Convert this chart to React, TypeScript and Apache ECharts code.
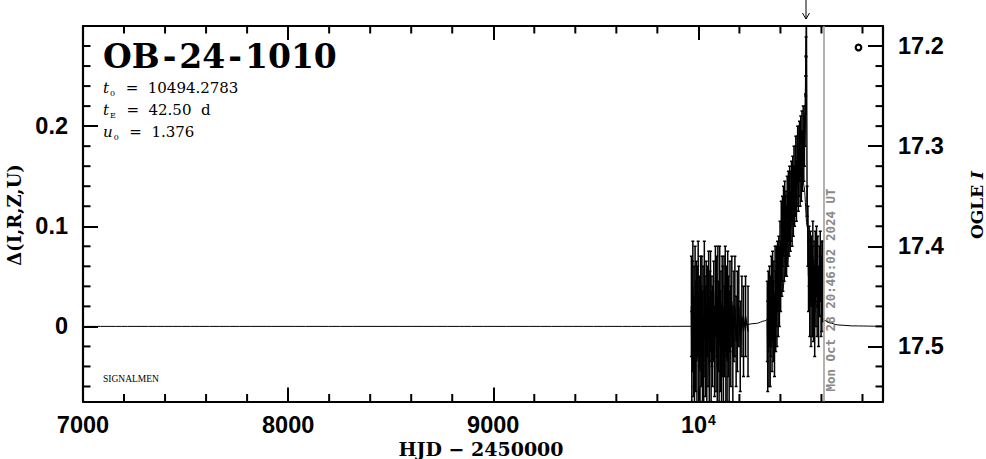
import React, { useEffect, useRef } from 'react';
import * as echarts from 'echarts';

// ---- data ----
// [HJD-2450000, Δmag, σ]
const season2023: number[][] = [
  [9966, 0.020, 0.050], [9968, -0.030, 0.045], [9971, 0.010, 0.055], [9973, 0.040, 0.045],
  [9976, -0.020, 0.050], [9979, 0.000, 0.060], [9981, -0.040, 0.045], [9984, 0.030, 0.050],
  [9987, -0.010, 0.055], [9990, 0.025, 0.040], [9993, -0.035, 0.050], [9996, 0.015, 0.045],
  [9999, 0.035, 0.050], [10002, -0.025, 0.055], [10005, 0.005, 0.045], [10008, -0.045, 0.050],
  [10011, 0.025, 0.045], [10014, -0.010, 0.050], [10017, 0.030, 0.040], [10020, -0.020, 0.055],
  [10023, 0.010, 0.050], [10026, -0.035, 0.045], [10029, 0.040, 0.045], [10032, 0.000, 0.050],
  [10035, -0.015, 0.055], [10038, 0.020, 0.045], [10041, -0.030, 0.050], [10044, 0.015, 0.045],
  [10047, -0.005, 0.055], [10050, 0.030, 0.045], [10053, -0.040, 0.050], [10056, 0.010, 0.045],
  [10059, 0.025, 0.050], [10062, -0.020, 0.055], [10066, 0.005, 0.045], [10069, -0.010, 0.050],
  [10075, 0.015, 0.050], [10079, -0.025, 0.045], [10083, 0.035, 0.045], [10086, -0.010, 0.055],
  [10089, 0.020, 0.050], [10092, -0.040, 0.045], [10095, 0.030, 0.050], [10098, 0.000, 0.045],
  [10101, -0.020, 0.055], [10104, 0.035, 0.045], [10107, -0.015, 0.050], [10110, 0.010, 0.045],
  [10113, -0.030, 0.050], [10116, 0.025, 0.045], [10119, 0.005, 0.055], [10122, -0.035, 0.045],
  [10125, 0.020, 0.050], [10128, -0.005, 0.045], [10131, 0.030, 0.050], [10134, -0.025, 0.050],
  [10137, 0.015, 0.045], [10140, -0.035, 0.050], [10143, 0.030, 0.045], [10146, 0.000, 0.050],
  [10150, -0.020, 0.055], [10154, 0.020, 0.045], [10158, -0.010, 0.050], [10163, 0.025, 0.045],
  [10168, -0.030, 0.050], [10173, 0.010, 0.045], [10178, 0.020, 0.050], [10184, -0.015, 0.045],
  [10190, 0.005, 0.050], [10197, 0.020, 0.040], [10204, -0.020, 0.045], [10212, 0.010, 0.040],
  [10220, -0.005, 0.045], [10230, 0.010, 0.040], [10242, -0.005, 0.045],
];

const season2024Rise: number[][] = [
  [10336, 0.005, 0.040], [10338, -0.020, 0.045], [10341, 0.015, 0.040], [10344, -0.010, 0.050],
  [10347, 0.020, 0.040], [10350, -0.015, 0.045], [10353, 0.010, 0.040], [10356, 0.025, 0.045],
  [10359, -0.005, 0.040], [10362, 0.030, 0.045], [10365, 0.005, 0.040], [10368, 0.020, 0.045],
  [10371, -0.010, 0.040], [10374, 0.035, 0.045], [10377, 0.015, 0.040], [10380, 0.040, 0.040],
  [10383, 0.020, 0.040], [10386, 0.050, 0.035], [10389, 0.030, 0.040], [10392, 0.055, 0.035],
  [10395, 0.040, 0.040], [10398, 0.070, 0.035], [10401, 0.050, 0.035], [10404, 0.085, 0.040],
  [10407, 0.065, 0.035], [10410, 0.095, 0.035], [10412, 0.075, 0.040], [10415, 0.105, 0.035],
  [10418, 0.080, 0.035], [10421, 0.110, 0.035], [10424, 0.090, 0.040], [10427, 0.100, 0.035],
  [10430, 0.085, 0.035], [10433, 0.115, 0.035], [10436, 0.095, 0.035], [10439, 0.120, 0.035],
  [10442, 0.100, 0.030], [10445, 0.125, 0.035], [10448, 0.105, 0.030], [10451, 0.120, 0.035],
  [10454, 0.135, 0.030], [10457, 0.115, 0.035], [10460, 0.140, 0.030], [10463, 0.125, 0.035],
  [10466, 0.150, 0.030], [10469, 0.130, 0.030], [10472, 0.145, 0.035], [10475, 0.160, 0.030],
  [10478, 0.135, 0.030], [10481, 0.155, 0.035], [10484, 0.170, 0.030], [10487, 0.145, 0.030],
  [10490, 0.165, 0.035], [10493, 0.175, 0.030], [10496, 0.150, 0.030], [10499, 0.180, 0.030],
  [10502, 0.160, 0.035], [10505, 0.185, 0.030], [10508, 0.165, 0.030], [10511, 0.190, 0.030],
  [10514, 0.170, 0.025], [10517, 0.185, 0.025], [10520, 0.200, 0.020], [10522, 0.222, 0.010],
  [10523, 0.240, 0.010], [10524, 0.260, 0.010], [10525, 0.279, 0.010], [10526, 0.360, 0.010],
];

const season2024Fall: number[][] = [
  [10530, 0.125, 0.015], [10534, 0.090, 0.030], [10537, 0.050, 0.035], [10540, 0.070, 0.030],
  [10543, 0.030, 0.040], [10546, 0.060, 0.035], [10549, 0.020, 0.040], [10552, 0.055, 0.035],
  [10555, 0.035, 0.045], [10558, 0.070, 0.035], [10561, 0.025, 0.040], [10564, 0.050, 0.035],
  [10567, 0.015, 0.045], [10570, 0.060, 0.035], [10573, 0.040, 0.040], [10576, 0.065, 0.035],
  [10579, 0.030, 0.040], [10582, 0.055, 0.035], [10586, 0.020, 0.040], [10590, 0.045, 0.035],
  [10594, 0.060, 0.035], [10598, 0.030, 0.040], [10602, 0.040, 0.045], [10606, 0.045, 0.040],
];

// model light curve [HJD-2450000, Δmag]
const modelCurve: number[][] = [
  [7000, 0], [9800, 0], [10069, 0.0002], [10197, 0.0008], [10282, 0.003], [10324, 0.0056],
  [10367, 0.0133], [10388, 0.0215], [10409, 0.036], [10431, 0.061], [10452, 0.099],
  [10473, 0.144], [10484, 0.160], [10494, 0.166], [10505, 0.160], [10515, 0.140],
  [10530, 0.100], [10545, 0.060], [10560, 0.035], [10580, 0.018], [10600, 0.009],
  [10615, 0.006], [10640, 0.0035], [10680, 0.0015], [10750, 0.0005], [10900, 0],
];

const nowHJD = 10609;

const xMajorTicks = [7000, 8000, 9000, 10000];
const xMinorTicks = [7200, 7400, 7600, 7800, 8200, 8400, 8600, 8800, 9200, 9400, 9600, 9800, 10200, 10400, 10600, 10800];
const deltaMajorTicks = [0, 0.1, 0.2];
const deltaMinorTicks = [-0.06, -0.04, -0.02, 0.02, 0.04, 0.06, 0.08, 0.12, 0.14, 0.16, 0.18, 0.22, 0.24, 0.26, 0.28];
const magMajorTicks = [17.2, 17.3, 17.4, 17.5];
const magMinorTicks = [17.22, 17.24, 17.26, 17.28, 17.32, 17.34, 17.36, 17.38, 17.42, 17.44, 17.46, 17.48, 17.52, 17.54];

const BLACK = '#000';
const tickFont = { fontFamily: 'Liberation Sans', fontWeight: 'bold' as const, fontSize: 23.5, color: BLACK };
const serif = 'DejaVu Serif';

function minorTickSeries(data: number[][], yAxisIndex: number, side: 'x' | 'left' | 'right') {
  return {
    type: 'custom',
    xAxisIndex: 0,
    yAxisIndex,
    silent: true,
    clip: false,
    z: 5,
    data,
    renderItem: (params: any, api: any) => {
      const cs = params.coordSys;
      const p = api.coord([api.value(0), api.value(1)]);
      const st = { stroke: BLACK, lineWidth: 2 };
      const L = 7.5;
      if (side === 'x') {
        const b = cs.y + cs.height;
        return {
          type: 'group',
          children: [
            { type: 'line', shape: { x1: p[0], y1: b, x2: p[0], y2: b - L }, style: st },
            { type: 'line', shape: { x1: p[0], y1: cs.y, x2: p[0], y2: cs.y + L }, style: st },
          ],
        };
      }
      if (side === 'left') {
        return { type: 'line', shape: { x1: cs.x, y1: p[1], x2: cs.x + L, y2: p[1] }, style: st };
      }
      const r = cs.x + cs.width;
      return { type: 'line', shape: { x1: r, y1: p[1], x2: r - L, y2: p[1] }, style: st };
    },
  };
}

function errorBarSeries(rows: number[][]) {
  return {
    type: 'custom',
    xAxisIndex: 0,
    yAxisIndex: 0,
    silent: true,
    clip: true,
    z: 3,
    encode: { x: 0, y: [1, 2] },
    data: rows.map(([t, d, e]) => [t, d - e, d + e]),
    renderItem: (params: any, api: any) => {
      const cs = params.coordSys;
      const t = api.value(0);
      const a = api.coord([t, api.value(1)]);
      const b = api.coord([t, api.value(2)]);
      const top = cs.y;
      const bot = cs.y + cs.height;
      const clamp = (v: number) => Math.min(Math.max(v, top), bot);
      const st = { stroke: BLACK, lineWidth: 1.5 };
      const children: any[] = [
        { type: 'line', shape: { x1: a[0], y1: clamp(a[1]), x2: a[0], y2: clamp(b[1]) }, style: st },
      ];
      const cap = 1.5;
      if (a[1] >= top && a[1] <= bot) children.push({ type: 'line', shape: { x1: a[0] - cap, y1: a[1], x2: a[0] + cap, y2: a[1] }, style: st });
      if (b[1] >= top && b[1] <= bot) children.push({ type: 'line', shape: { x1: a[0] - cap, y1: b[1], x2: a[0] + cap, y2: b[1] }, style: st });
      return { type: 'group', children };
    },
  };
}

export default function App() {
  const ref = useRef<HTMLDivElement>(null);

  useEffect(() => {
    if (!ref.current) return;
    const chart = echarts.init(ref.current, undefined, { renderer: 'svg' });

    const season2024 = season2024Rise.concat(season2024Fall);

    const titleTok = { fontFamily: serif, fontWeight: 'bold', fontSize: 33, color: BLACK };

    const option: any = {
      animation: false,
      backgroundColor: '#fff',
      grid: { left: 83, right: 103, top: 26, bottom: 57.5, outerBoundsMode: 'none', containLabel: false },
      xAxis: [
        {
          type: 'value', position: 'bottom', min: 7000, max: 10900,
          axisLine: { show: true, onZero: false, lineStyle: { color: BLACK, width: 2.2 } },
          axisTick: { show: true, inside: true, length: 14, customValues: xMajorTicks, lineStyle: { color: BLACK, width: 2 } },
          axisLabel: {
            show: true, customValues: xMajorTicks, margin: 11, ...tickFont,
            formatter: (v: number) => (v === 10000 ? '{b|10}{s|4}' : String(v)),
            rich: {
              b: { ...tickFont },
              s: { fontFamily: 'Liberation Sans', fontWeight: 'bold', fontSize: 14, color: BLACK, verticalAlign: 'top', padding: [0, 0, 8, 1] },
            },
          },
          splitLine: { show: false },
        },
        {
          type: 'value', position: 'top', min: 7000, max: 10900,
          axisLine: { show: true, onZero: false, lineStyle: { color: BLACK, width: 2.2 } },
          axisTick: { show: true, inside: true, length: 14, customValues: xMajorTicks, lineStyle: { color: BLACK, width: 2 } },
          axisLabel: { show: false },
          splitLine: { show: false },
        },
      ],
      yAxis: [
        {
          type: 'value', position: 'left', min: -0.075, max: 0.3,
          axisLine: { show: true, onZero: false, lineStyle: { color: BLACK, width: 2.2 } },
          axisTick: { show: true, inside: true, length: 15, customValues: deltaMajorTicks, lineStyle: { color: BLACK, width: 2 } },
          axisLabel: {
            show: true, customValues: deltaMajorTicks, margin: 15, ...tickFont,
            formatter: (v: number) => (v === 0 ? '0' : v.toFixed(1)),
          },
          splitLine: { show: false },
        },
        {
          type: 'value', position: 'right', inverse: true, min: 17.18, max: 17.555,
          axisLine: { show: true, onZero: false, lineStyle: { color: BLACK, width: 2.2 } },
          axisTick: { show: true, inside: true, length: 15, customValues: magMajorTicks, lineStyle: { color: BLACK, width: 2 } },
          axisLabel: {
            show: true, customValues: magMajorTicks, margin: 15, ...tickFont,
            formatter: (v: number) => v.toFixed(1),
          },
          splitLine: { show: false },
        },
      ],
      series: [
        {
          type: 'line', name: 'model', xAxisIndex: 0, yAxisIndex: 0, data: modelCurve,
          showSymbol: false, symbol: 'none', smooth: 0.3, smoothMonotone: 'x',
          lineStyle: { color: BLACK, width: 1 }, z: 2, clip: true, silent: true,
          markLine: {
            silent: true, symbol: ['none', 'none'], label: { show: false },
            lineStyle: { color: '#9a9a9a', width: 1.5, type: 'solid' },
            data: [{ xAxis: nowHJD }],
          },
        },
        errorBarSeries(season2023),
        errorBarSeries(season2024),
        {
          type: 'line', name: '2023', xAxisIndex: 0, yAxisIndex: 0,
          data: season2023.map(([t, d]) => [t, d]),
          showSymbol: false, symbol: 'none', lineStyle: { color: BLACK, width: 1.4 }, z: 4, clip: true, silent: true,
        },
        {
          type: 'line', name: '2024', xAxisIndex: 0, yAxisIndex: 0,
          data: season2024.map(([t, d]) => [t, d]),
          showSymbol: false, symbol: 'none', lineStyle: { color: BLACK, width: 1.4 }, z: 4, clip: true, silent: true,
        },
        minorTickSeries(xMinorTicks.map((v) => [v, 0]), 0, 'x'),
        minorTickSeries(deltaMinorTicks.map((v) => [7000, v]), 0, 'left'),
        minorTickSeries(magMinorTicks.map((v) => [7000, v]), 1, 'right'),
      ],
      graphic: [
        {
          type: 'text', x: 103, y: 56,
          style: {
            text: '{t|OB}{d|-}{t|24}{d|-}{t|1010}', verticalAlign: 'middle', align: 'left',
            rich: {
              t: titleTok,
              d: { ...titleTok, padding: [0, 3, 0, 3] },
            },
          },
        },
        ...[
          { y: 88, text: '{it|t}{sub|0}{n|  =  10494.2783}' },
          { y: 110, text: '{it|t}{sub|E}{n|  =  42.50  d}' },
          { y: 132, text: '{it|u}{sub|0}{n|  =  1.376}' },
        ].map((l) => ({
          type: 'text', x: 103, y: l.y,
          style: {
            text: l.text, verticalAlign: 'middle', align: 'left',
            rich: {
              it: { fontFamily: serif, fontStyle: 'italic', fontSize: 15, color: BLACK, lineHeight: 18, verticalAlign: 'middle' },
              sub: { fontFamily: serif, fontSize: 8, color: BLACK, lineHeight: 18, verticalAlign: 'bottom', padding: [0, 1, 0, 1] },
              n: { fontFamily: serif, fontSize: 15, color: BLACK, lineHeight: 18, verticalAlign: 'middle' },
            },
          },
        })),
        {
          type: 'text', x: 103, y: 379,
          style: { text: 'SIGNALMEN', fontFamily: 'Liberation Serif', fontSize: 9.5, fill: BLACK, verticalAlign: 'middle', align: 'left' },
        },
        {
          type: 'text', x: 14, y: 215, rotation: Math.PI / 2,
          style: { text: 'Δ(I,R,Z,U)', fontFamily: serif, fontWeight: 'bold', fontSize: 18, fill: BLACK, align: 'center', verticalAlign: 'middle' },
        },
        {
          type: 'text', x: 481, y: 449,
          style: { text: 'HJD − 2450000', fontFamily: serif, fontWeight: 'bold', fontSize: 19, fill: BLACK, align: 'center', verticalAlign: 'middle' },
        },
        {
          type: 'text', x: 977, y: 205, rotation: Math.PI / 2,
          style: {
            text: '{n|OGLE }{i|I}', align: 'center', verticalAlign: 'middle',
            rich: {
              n: { fontFamily: serif, fontWeight: 'bold', fontSize: 17, color: BLACK },
              i: { fontFamily: serif, fontWeight: 'bold', fontStyle: 'italic', fontSize: 17, color: BLACK },
            },
          },
        },
        {
          type: 'text', x: 830.5, y: 290, rotation: Math.PI / 2,
          style: { text: 'Mon Oct 28 20:46:02 2024 UT', fontFamily: 'DejaVu Sans Mono', fontWeight: 'bold', fontSize: 12.5, fill: '#8a8a8a', align: 'center', verticalAlign: 'middle' },
        },
        { type: 'line', shape: { x1: 806, y1: 0, x2: 806, y2: 19 }, style: { stroke: BLACK, lineWidth: 1 } },
        { type: 'polyline', shape: { points: [[802.5, 13], [806, 19], [809.5, 13]] }, style: { stroke: BLACK, lineWidth: 1, fill: 'none' } },
        { type: 'circle', shape: { cx: 858.5, cy: 47.5, r: 2.8 }, style: { stroke: BLACK, lineWidth: 2.2, fill: 'none' } },
      ],
    };

    chart.setOption(option);
    return () => chart.dispose();
  }, []);

  return <div ref={ref} style={{ position: 'fixed', left: 0, top: 0, width: 986, height: 459 }} />;
}
